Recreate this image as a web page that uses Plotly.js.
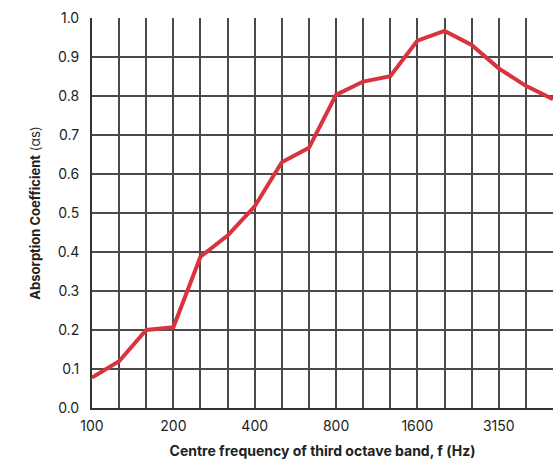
<!DOCTYPE html>
<html><head><meta charset="utf-8">
<script src="https://cdn.plot.ly/plotly-3.0.1.min.js"></script>
<style>html,body{margin:0;padding:0;background:#fff}#c{width:554px;height:460px}</style>
</head><body><div id="c"></div>
<script>
const bands = ["100","125","160","200","250","315","400","500","630","800","1000","1250","1600","2000","2500","3150","4000","5000"];
const absorption = [0.078,0.12,0.20,0.207,0.388,0.442,0.517,0.63,0.667,0.803,0.837,0.851,0.942,0.967,0.931,0.871,0.826,0.792];
const xTickLabels = ["100","200","400","800","1600","3150"];
const yTicks = [0,0.1,0.2,0.3,0.4,0.5,0.6,0.7,0.8,0.9,1.0];

const idx = bands.map((b, i) => i);
const trace = {
  x: idx, y: absorption, type: 'scatter', mode: 'lines',
  line: {color: '#d9343d', width: 4}, hoverinfo: 'skip'
};
const layout = {
  width: 554, height: 460,
  margin: {l: 92, r: 1, t: 18, b: 52},
  paper_bgcolor: '#fff', plot_bgcolor: '#fff',
  font: {family: 'Inter, Roboto, sans-serif', color: '#222'},
  showlegend: false,
  xaxis: {
    type: 'linear',
    range: [0, bands.length - 1],
    tickmode: 'array',
    tickvals: idx, ticktext: bands.map(b => xTickLabels.includes(b) ? b : ''),
    showgrid: true, gridcolor: '#4a4a4a', gridwidth: 2, zeroline: false,
    showline: true, linecolor: '#333', linewidth: 2,
    ticks: '', ticklabelstandoff: 4,
    tickfont: {size: 14, color: '#222'},
    title: {text: '<b>Centre frequency of third octave band, f (Hz)</b>', font: {size: 14, color: '#222'}, standoff: 13}
  },
  yaxis: {
    range: [0, 1.0], tickvals: yTicks, tickformat: '.1f',
    showgrid: true, gridcolor: '#4a4a4a', gridwidth: 2,
    zeroline: false, showline: true, linecolor: '#333', linewidth: 2,
    ticks: '', ticklabelstandoff: 8,
    tickfont: {size: 14, color: '#222'},
    title: {text: '<b>Absorption Coefficient</b> (αs)', font: {size: 13, color: '#222'}, standoff: 14}
  }
};
Plotly.newPlot('c', [trace], layout, {displayModeBar: false, staticPlot: true});
</script></body></html>
